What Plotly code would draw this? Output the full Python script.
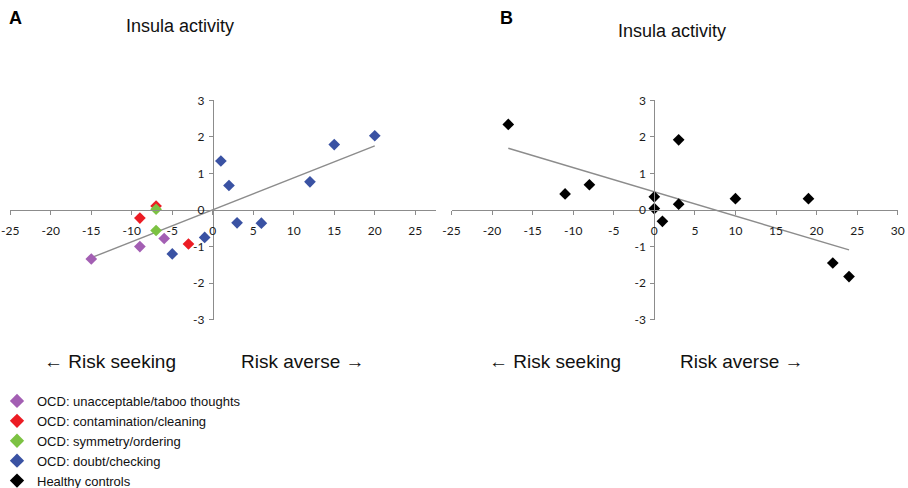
import numpy as np
import plotly.graph_objects as go

# ---------------- data ----------------
taboo_x = [-15, -9, -6]
taboo_y = [-1.34, -1.00, -0.78]
contam_x = [-7, -9, -3]
contam_y = [0.11, -0.22, -0.93]
symm_x = [-7, -7]
symm_y = [0.02, -0.56]
doubt_x = [-5, -1, 1, 2, 3, 6, 12, 15, 20]
doubt_y = [-1.20, -0.75, 1.34, 0.67, -0.35, -0.36, 0.77, 1.79, 2.03]
hc_x = [-18, -11, -8, 0, 0, 1, 3, 3, 10, 19, 22, 24]
hc_y = [2.34, 0.44, 0.69, 0.36, 0.04, -0.31, 1.92, 0.16, 0.31, 0.31, -1.45, -1.82]

x_ticks = [-25, -20, -15, -10, -5, 0, 5, 10, 15, 20, 25]
x_ticks_b = [-25, -20, -15, -10, -5, 0, 5, 10, 15, 20, 25, 30]
y_ticks = [-3, -2, -1, 0, 1, 2, 3]
x_labels = [str(v) for v in x_ticks]
x_labels_b = [str(v) for v in x_ticks_b]
y_labels = [str(v) for v in y_ticks]

names = ["OCD: unacceptable/taboo thoughts", "OCD: contamination/cleaning",
         "OCD: symmetry/ordering", "OCD: doubt/checking", "Healthy controls"]
colors = ["#A35FB3", "#EC1C24", "#7CC242", "#3A52A3", "#000000"]

W, H = 908, 488
def px(v): return v / W
def py(v): return 1 - v / H

xa_range = [-25, 27.5]
xb_range = [-25, 30]
y_range = [-3, 3]
dom_a = [px(10.3), px(435.5)]
dom_b = [px(451.5), px(897.7)]
dom_y = [py(319.7), py(100.3)]
y_zero = (dom_y[0] + dom_y[1]) / 2
def zero_pos(dom, rng):
    return dom[0] + (dom[1] - dom[0]) * (0 - rng[0]) / (rng[1] - rng[0])

fig = go.Figure()

# trend lines (least squares fits)
ocd_x = np.array(taboo_x + contam_x + symm_x + doubt_x, dtype=float)
ocd_y = np.array(taboo_y + contam_y + symm_y + doubt_y, dtype=float)
ka, ba = np.polyfit(ocd_x, ocd_y, 1)
tx_a = np.array([ocd_x.min(), ocd_x.max()])
fig.add_trace(go.Scatter(x=tx_a, y=ka * tx_a + ba, mode="lines",
                         line=dict(color="#8C8C8C", width=1.4),
                         showlegend=False, hoverinfo="skip", xaxis="x", yaxis="y"))
hx = np.array(hc_x, dtype=float)
kb, bb = np.polyfit(hx, np.array(hc_y, dtype=float), 1)
tx_b = np.array([hx.min(), hx.max()])
fig.add_trace(go.Scatter(x=tx_b, y=kb * tx_b + bb, mode="lines",
                         line=dict(color="#8C8C8C", width=1.4),
                         showlegend=False, hoverinfo="skip", xaxis="x2", yaxis="y2"))

groups = [(taboo_x, taboo_y), (contam_x, contam_y), (symm_x, symm_y), (doubt_x, doubt_y)]
for i, (gx, gy) in enumerate(groups):
    fig.add_trace(go.Scatter(x=gx, y=gy, mode="markers", name=names[i],
                             marker=dict(symbol="diamond", size=9, color=colors[i]),
                             showlegend=False, xaxis="x", yaxis="y"))
fig.add_trace(go.Scatter(x=hc_x, y=hc_y, mode="markers", name=names[4],
                         marker=dict(symbol="diamond", size=9, color=colors[4]),
                         showlegend=False, xaxis="x2", yaxis="y2"))

# legend entries
for i in range(5):
    fig.add_trace(go.Scatter(x=[None], y=[None], mode="markers", name=names[i],
                             marker=dict(symbol="diamond", size=11, color=colors[i]),
                             showlegend=True, xaxis="x", yaxis="y"))

axis_common = dict(showline=True, linecolor="#8C8C8C", linewidth=1, showgrid=False,
                   zeroline=False, ticks="outside", ticklen=4, tickcolor="#8C8C8C",
                   tickfont=dict(family="Lato", size=12, color="#1a1a1a"),
                   fixedrange=True, automargin=False, tickmode="array")

fig.update_layout(
    width=W, height=H, margin=dict(l=0, r=0, t=0, b=0, autoexpand=False),
    paper_bgcolor="white", plot_bgcolor="rgba(0,0,0,0)",
    xaxis=dict(domain=dom_a, range=xa_range, tickvals=x_ticks, ticktext=x_labels,
               anchor="free", position=y_zero, ticklabelstandoff=6, **axis_common),
    yaxis=dict(domain=dom_y, range=y_range, tickvals=y_ticks, ticktext=y_labels,
               anchor="free", position=zero_pos(dom_a, xa_range),
               ticklabelstandoff=2, **axis_common),
    xaxis2=dict(domain=dom_b, range=xb_range, tickvals=x_ticks_b, ticktext=x_labels_b,
                anchor="free", position=y_zero, ticklabelstandoff=6, **axis_common),
    yaxis2=dict(domain=dom_y, range=y_range, tickvals=y_ticks, ticktext=y_labels,
                anchor="free", position=zero_pos(dom_b, xb_range),
                ticklabelstandoff=2, **axis_common),
    legend=dict(x=px(-3), y=py(386), xanchor="left", yanchor="top",
                font=dict(family="Liberation Sans", size=13, color="#111111"),
                bgcolor="rgba(0,0,0,0)", tracegroupgap=0, itemsizing="trace"),
    showlegend=True,
)

ann_font = dict(family="Liberation Sans", size=18, color="#111111")
big_font = dict(family="Liberation Sans", size=19, color="#111111")
annos = [
    dict(text="<b>A</b>", x=px(15), y=py(18), font=dict(family="Liberation Sans", size=18, color="#000")),
    dict(text="<b>B</b>", x=px(506), y=py(18), font=dict(family="Liberation Sans", size=18, color="#000")),
    dict(text="Insula activity", x=px(180), y=py(26), font=ann_font),
    dict(text="Insula activity", x=px(672), y=py(31), font=ann_font),
    dict(text="\u2190 Risk seeking", x=px(110), y=py(361), font=big_font),
    dict(text="Risk averse \u2192", x=px(303), y=py(361), font=big_font),
    dict(text="\u2190 Risk seeking", x=px(555), y=py(361), font=big_font),
    dict(text="Risk averse \u2192", x=px(742), y=py(361), font=big_font),
]
for a in annos:
    fig.add_annotation(xref="paper", yref="paper", showarrow=False,
                       xanchor="center", yanchor="middle", **a)

fig.write_html("out.html", config={"displayModeBar": False},
               post_script="document.body.style.margin='0';document.body.style.padding='0';")
